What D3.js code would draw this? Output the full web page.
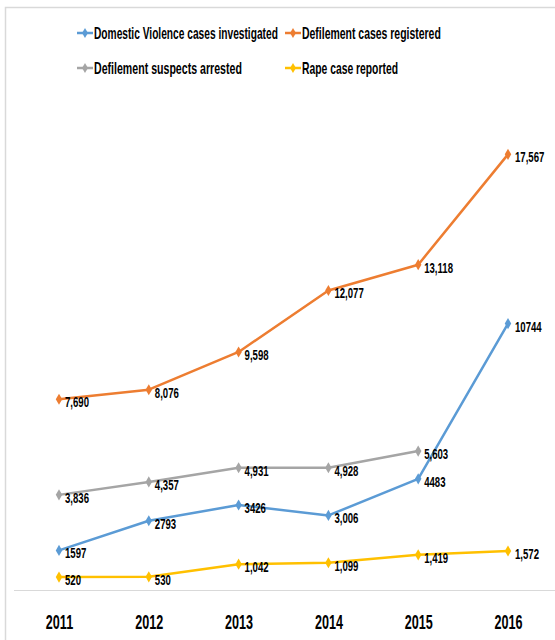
<!DOCTYPE html>
<html><head><meta charset="utf-8">
<script src="https://cdn.jsdelivr.net/npm/d3@7"></script>
<style>
body{margin:0;background:#fff;}
svg text{font-family:"Liberation Sans",Arial,sans-serif;font-weight:bold;fill:#000;}
</style></head><body>
<svg id="c" width="555" height="640"></svg>
<script>
const years = ["2011","2012","2013","2014","2015","2016"];
const domesticViolence = [1597, 2793, 3426, 3006, 4483, 10744];
const defilementRegistered = [7690, 8076, 9598, 12077, 13118, 17567];
const defilementArrested = [3836, 4357, 4931, 4928, 5603, null];
const rapeReported = [520, 530, 1042, 1099, 1419, 1572];
const labelsDV = ["1597","2793","3426","3,006","4483","10744"];
const labelsDR = ["7,690","8,076","9,598","12,077","13,118","17,567"];
const labelsDA = ["3,836","4,357","4,931","4,928","5,603",""];
const labelsRR = ["520","530","1,042","1,099","1,419","1,572"];
const seriesNames = ["Domestic Violence cases investigated","Defilement cases registered","Defilement  suspects arrested","Rape case reported"];

const colors = ["#5B9BD5","#ED7D31","#A5A5A5","#FFC000"];
const series = [
  {name:seriesNames[0], values:domesticViolence, labels:labelsDV, color:colors[0]},
  {name:seriesNames[1], values:defilementRegistered, labels:labelsDR, color:colors[1]},
  {name:seriesNames[2], values:defilementArrested, labels:labelsDA, color:colors[2]},
  {name:seriesNames[3], values:rapeReported, labels:labelsRR, color:colors[3]}
];

const svg = d3.select("#c");
svg.append("path").attr("d","M5.5,640 L5.5,7.5 L555,7.5").attr("fill","none").attr("stroke","#d9d9d9").attr("stroke-width",1.5);

const x = d3.scalePoint().domain(years).range([59,508]);
const y = d3.scaleLinear().domain([0,20000]).range([590,94]);

svg.append("line").attr("x1",14).attr("x2",555).attr("y1",590.5).attr("y2",590.5).attr("stroke","#d9d9d9").attr("stroke-width",1);
const ax = svg.append("g").attr("transform","translate(0,590)").call(d3.axisBottom(x).tickSize(0).tickPadding(0));
ax.select(".domain").remove();
ax.attr("font-family",null).attr("font-size",null);
ax.selectAll("text").attr("font-size",20).attr("dy",null).attr("y",0)
  .attr("transform","translate(0,39) scale(0.63,1)");

const line = d3.line().defined(d=>d.v!=null).x(d=>x(d.year)).y(d=>y(d.v));
const diamond = d3.symbol().type(d3.symbolDiamond).size(36);

series.forEach(s=>{
  const pts = years.map((yr,i)=>({year:yr,v:s.values[i],label:s.labels[i],i}));
  svg.append("path").datum(pts).attr("d",line).attr("fill","none").attr("stroke",s.color).attr("stroke-width",2.5).attr("stroke-linejoin","round");
  const valid = pts.filter(d=>d.v!=null);
  svg.selectAll(null).data(valid).enter().append("path").attr("d",diamond)
    .attr("transform",d=>`translate(${x(d.year)},${y(d.v)})`).attr("fill",s.color);
  svg.selectAll(null).data(valid).enter().append("text")
    .attr("transform",d=>`translate(${x(d.year)+(d.i===5?7:6)},${y(d.v)+8}) scale(0.64,1)`)
    .attr("font-size",15).text(d=>d.label);
});

const legendPos = [[77,33],[285,33],[77,68],[285,68]];
const legendWidths = [184,139,148,96];
series.forEach((s,i)=>{
  const [lx,ly] = legendPos[i];
  const g = svg.append("g").attr("transform",`translate(${lx},${ly})`);
  g.append("line").attr("x1",0).attr("x2",16).attr("y1",0).attr("y2",0).attr("stroke",s.color).attr("stroke-width",2.5);
  g.append("path").attr("d",d3.symbol().type(d3.symbolDiamond).size(30)).attr("transform","translate(8,0)").attr("fill",s.color);
  const t = g.append("text").attr("font-size",16).text(s.name);
  const k = legendWidths[i] / t.node().getComputedTextLength();
  t.attr("transform",`translate(17,6) scale(${k},1)`);
});
</script>
</body></html>
